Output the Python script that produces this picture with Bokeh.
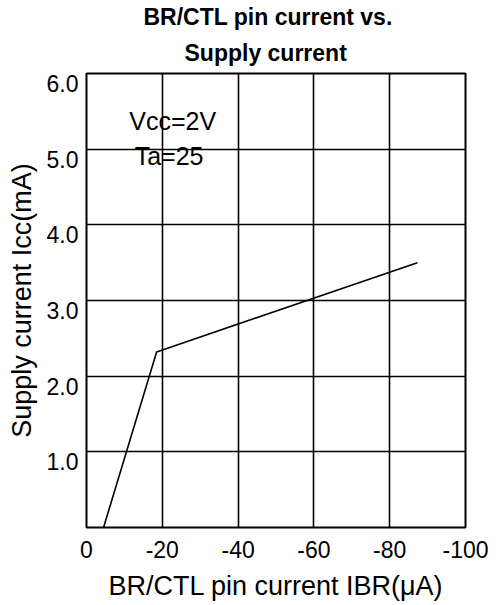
from bokeh.plotting import figure
from bokeh.models import Range1d, FixedTicker, Title, Label
from bokeh.embed import file_html
from bokeh.resources import INLINE

# Data
ibr_ua = [-4.5, -18.5, -87.3]          # BR/CTL pin current (uA)
icc_ma = [0.0, 2.32, 3.50]             # Supply current (mA)

x_ticks = [0, -20, -40, -60, -80, -100]
x_tick_labels = ["0", "-20", "-40", "-60", "-80", "-100"]
y_ticks = [1, 2, 3, 4, 5, 6]
y_tick_labels = ["1.0", "2.0", "3.0", "4.0", "5.0", "6.0"]

title_lines = ["BR/CTL pin current vs.", "Supply current"]
x_label = "BR/CTL pin current IBR(\u03bcA)"
y_label = "Supply current Icc(mA)"
notes = ["Vcc=2V", "Ta=25"]

FONT = "Liberation Sans"
LABEL_SHIFT = 0.13   # y tick labels sit slightly below their grid lines, as in the reference

p = figure(width=491, height=603, output_backend="svg", toolbar_location=None,
           x_range=Range1d(0, -100), y_range=Range1d(0, 6),
           min_border_left=86, min_border_right=26, min_border_top=73, min_border_bottom=76)
p.extra_y_ranges = {"lab": Range1d(LABEL_SHIFT, 6 + LABEL_SHIFT)}
p.background_fill_color = "white"
p.border_fill_color = "white"
p.outline_line_color = "black"
p.outline_line_width = 2

p.title = None
p.add_layout(Title(text=title_lines[1], align="left", text_font=FONT, text_font_size="23px",
                   text_font_style="bold", text_color="black", offset=98, standoff=16), "above")
p.add_layout(Title(text=title_lines[0], align="left", text_font=FONT, text_font_size="23px",
                   text_font_style="bold", text_color="black", offset=57, standoff=0), "above")

p.line(ibr_ua, icc_ma, line_color="black", line_width=1.6)

for ax in (p.xaxis[0], p.yaxis[0]):
    ax.axis_line_color = None
    ax.major_tick_line_color = None
    ax.minor_tick_line_color = None
    ax.major_label_text_font = FONT
    ax.major_label_text_font_size = "23px"
    ax.major_label_text_color = "black"
    ax.axis_label_text_font = FONT
    ax.axis_label_text_font_size = "27px"
    ax.axis_label_text_font_style = "normal"
    ax.axis_label_text_color = "black"

p.xaxis[0].ticker = FixedTicker(ticks=x_ticks)
p.xaxis[0].major_label_overrides = dict(zip(x_ticks, x_tick_labels))
p.xaxis[0].axis_label = x_label
p.xaxis[0].major_label_standoff = 7
p.xaxis[0].axis_label_standoff = 10

p.yaxis[0].y_range_name = "lab"
p.yaxis[0].ticker = FixedTicker(ticks=y_ticks)
p.yaxis[0].major_label_overrides = dict(zip(y_ticks, y_tick_labels))
p.yaxis[0].axis_label = y_label
p.yaxis[0].major_label_standoff = 2
p.yaxis[0].axis_label_standoff = 7

p.xgrid[0].ticker = FixedTicker(ticks=x_ticks)
p.ygrid[0].ticker = FixedTicker(ticks=y_ticks)
p.ygrid[0].y_range_name = "default"
for g in (p.xgrid[0], p.ygrid[0]):
    g.grid_line_color = "black"
    g.grid_line_width = 1.6
    g.grid_line_alpha = 1.0

p.add_layout(Label(x=-11.3, y=5.37, text=notes[0], text_font=FONT, text_font_size="25px",
                   text_color="black", text_baseline="alphabetic"))
p.add_layout(Label(x=-12.7, y=4.91, text=notes[1], text_font=FONT, text_font_size="25px",
                   text_color="black", text_baseline="alphabetic"))

open("out.html", "w").write(file_html(p, INLINE))
